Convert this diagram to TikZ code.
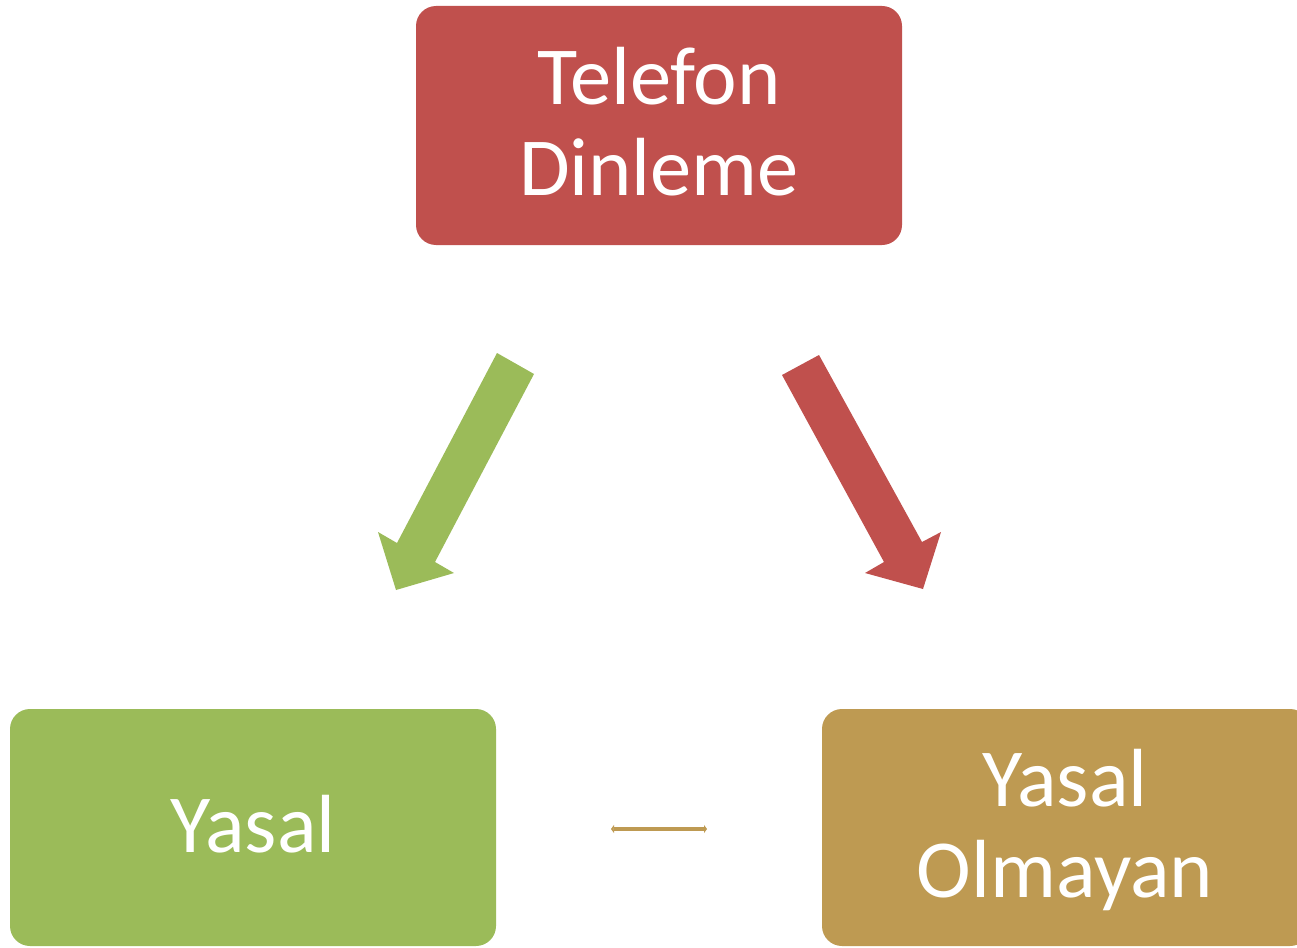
\documentclass[tikz,border=0pt]{standalone}
\usepackage{fontspec}
\setmainfont{Carlito}
\usetikzlibrary{arrows.meta}
\definecolor{cred}{HTML}{C0504D}
\definecolor{cgreen}{HTML}{9BBB59}
\definecolor{cgold}{HTML}{BE9A52}
\begin{document}
\begin{tikzpicture}[x=1pt,y=-1pt,
  box/.style={rounded corners=20pt,text=white,align=center,font=\fontsize{82.5}{91}\selectfont,inner sep=0pt},
]
\useasboundingbox (0,0) rectangle (1297,947);
% boxes
\fill[cred,rounded corners=20pt] (416,6) rectangle (902,245);
\node[box] (top) at (659,122) {Telefon\\Dinleme};
\fill[cgreen,rounded corners=20pt] (10,709) rectangle (496,946);
\node[box] (left) at (253,824) {Yasal};
\fill[cgold,rounded corners=20pt] (822,709) rectangle (1310,946);
\node[box] (right) at (1065,830) {Yasal\\Olmayan};
% block arrows
\fill[cgreen] (497,353) -- (534,374) -- (435,562) -- (454,573) -- (396,590) -- (378,532) -- (397,543) -- cycle;
\fill[cred] (819,355) -- (782,375) -- (884,562) -- (865,573) -- (923,589) -- (941,532) -- (922,542) -- cycle;
% small double arrow
\coordinate (a1) at (611,829);
\coordinate (a2) at (707,829);
\draw[cgold,line width=4pt,{Triangle[length=3pt,width=8pt]}-{Triangle[length=3pt,width=8pt]}] (a1) -- (a2);
\end{tikzpicture}
\end{document}
